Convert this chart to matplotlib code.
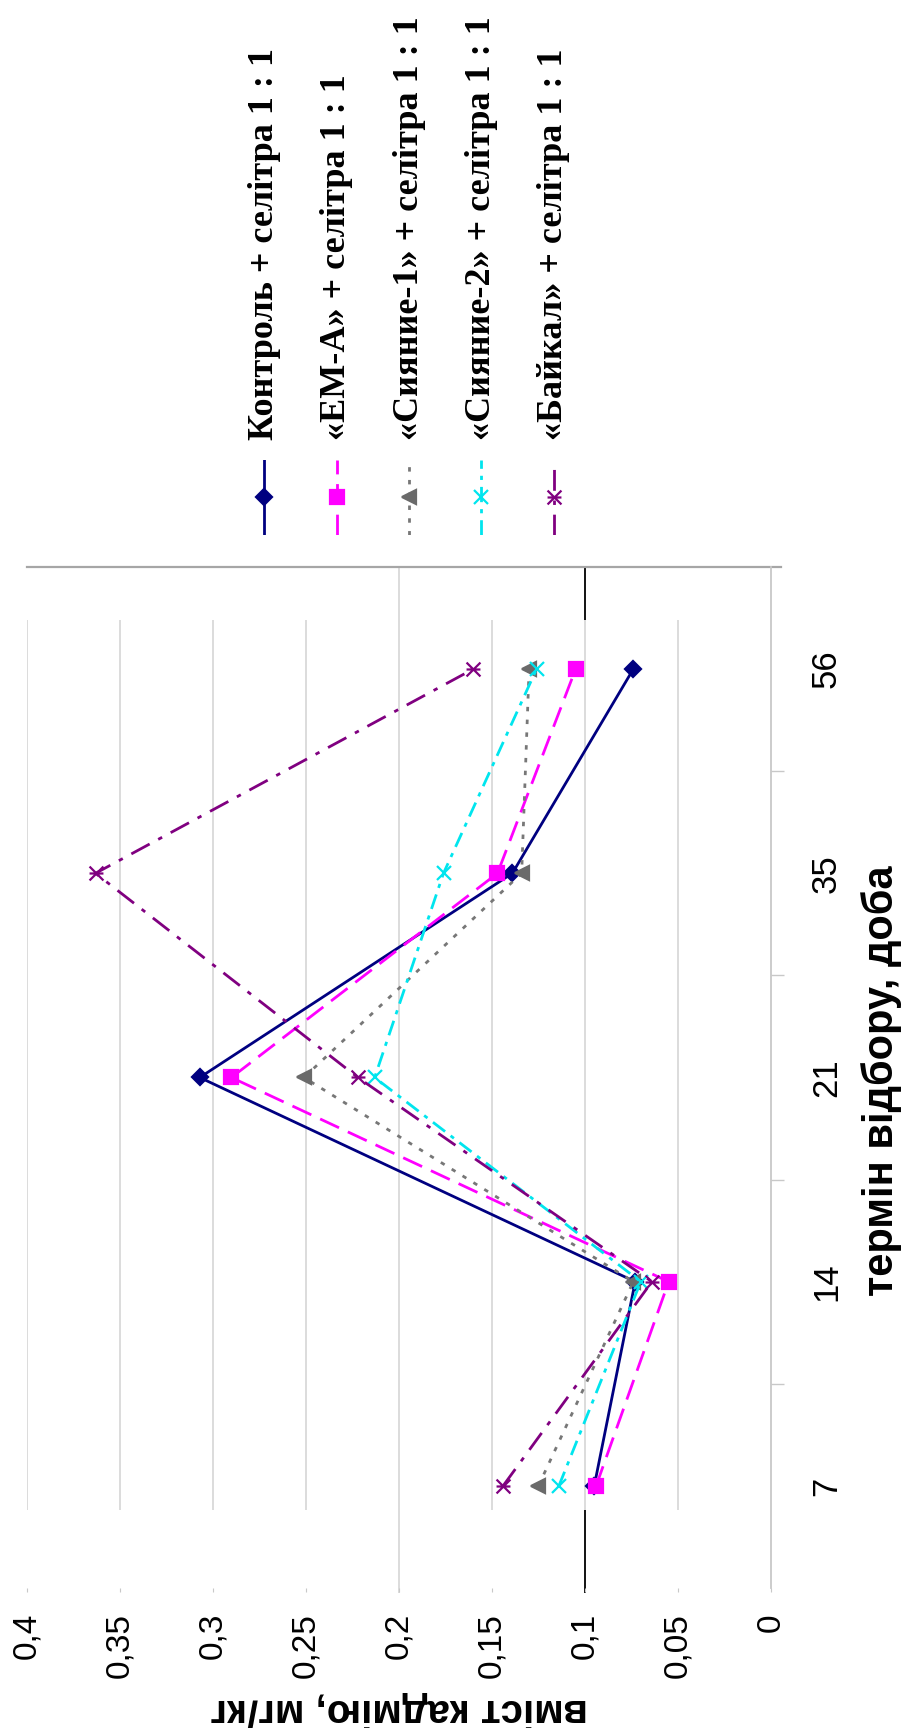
import matplotlib
matplotlib.use("Agg")
import matplotlib.pyplot as plt
from matplotlib.path import Path
import numpy as np


# sampling days (category axis) and the five treatments
days = ["7", "14", "21", "35", "56"]
series_names = ["Контроль + селітра 1 : 1",
                "«ЕМ-А» + селітра 1 : 1",
                "«Сияние-1» + селітра 1 : 1",
                "«Сияние-2» + селітра 1 : 1",
                "«Байкал» + селітра 1 : 1"]

# cadmium content, mg/kg
control = [0.095, 0.073, 0.307, 0.139, 0.074]
em_a = [0.094, 0.055, 0.290, 0.147, 0.105]
siyanie1 = [0.125, 0.074, 0.251, 0.134, 0.130]
siyanie2 = [0.114, 0.070, 0.213, 0.176, 0.126]
baikal = [0.144, 0.064, 0.222, 0.363, 0.160]

value_ticks = [0, 0.05, 0.1, 0.15, 0.2, 0.25, 0.3, 0.35, 0.4]
value_labels = ["0", "0,05", "0,1", "0,15", "0,2", "0,25", "0,3", "0,35", "0,4"]

# Excel-like asterisk (x plus a bar), chart is turned on its side
star = Path([(-1, -1), (1, 1), (-1, 1), (1, -1), (-1, 0), (1, 0)],
            [Path.MOVETO, Path.LINETO, Path.MOVETO, Path.LINETO, Path.MOVETO, Path.LINETO])

styles = [
    dict(color="#000080", ls="-", marker="D", ms=8, mfc="#000080", mec="#000080"),
    dict(color="#ff00ff", ls=(0, (7.5, 3.5)), marker="s", ms=10.5, mfc="#ff00ff", mec="#ff00ff"),
    dict(color="#777777", ls=(0, (1.6, 3)), marker="<", ms=10.5, mfc="#6a6a6a", mec="#6a6a6a"),
    dict(color="#00e5ee", ls=(0, (5.5, 2.5, 1.5, 2.5)), marker="x", ms=10, mfc="none", mec="#00e5ee"),
    dict(color="#800080", ls=(0, (7.5, 3.5, 1.6, 3.5)), marker=star, ms=10, mfc="none", mec="#800080"),
]
all_series = [control, em_a, siyanie1, siyanie2, baikal]

sans = "Liberation Sans"
serif = "Liberation Serif"

fig = plt.figure(figsize=(9.04, 17.28), dpi=100)
ax = fig.add_axes([0.0295, 0.081, 0.8234, 0.5909])

pos = np.arange(len(days))
for vals, st in zip(all_series, styles):
    ax.plot(vals, pos, lw=2, mew=1.6, zorder=3, clip_on=False, **st)

ax.set_xlim(0.4, 0)
ax.set_ylim(-0.5, len(days) - 0.5)

# gridlines (only part of their length is visible in the original)
xt = ax.get_xaxis_transform()
ax.vlines(value_ticks[1:], 0.0764, 0.948, transform=xt, colors="#d9d9d9", lw=1.3, zorder=1)
for lo, hi in [(0.948, 1.0), (-0.005, 0.0764)]:
    ax.vlines([0.2], lo, hi, transform=xt, colors="#d9d9d9", lw=1.3, zorder=1, clip_on=False)
    ax.vlines([0.1], lo, hi, transform=xt, colors="black", lw=1.3, zorder=1, clip_on=False)

for s in ["left", "bottom", "top"]:
    ax.spines[s].set_visible(False)
ax.spines["right"].set_color("#c8c8c8")
ax.spines["right"].set_linewidth(1.3)
ax.plot([0, 1.0134], [1, 1], transform=ax.transAxes, color="#a6a6a6", lw=1.6, clip_on=False)

# value axis (horizontal, reversed)
ax.set_xticks(value_ticks)
ax.set_xticklabels(value_labels, rotation=90, fontsize=24, family=sans)
ax.tick_params(axis="x", direction="out", length=3, color="#c8c8c8", pad=15)

# category axis on the right
ax.yaxis.tick_right()
ax.set_yticks(pos)
ax.set_yticklabels(days, rotation=90, va="center", fontsize=25, family=sans)
ax.tick_params(axis="y", which="major", length=0, pad=28)
ax.set_yticks(pos[:-1] + 0.5, minor=True)
ax.tick_params(axis="y", which="minor", direction="out", length=9, width=1, color="#c8c8c8")

fig.text(0.441, 0.0105, "вміст кадмію, мг/кг", rotation=180, ha="center", va="center",
         fontsize=29, fontweight="bold", family=sans)
fig.text(0.9757, 0.3744, "термін відбору, доба", rotation=90, ha="center", va="center",
         fontsize=30, fontweight="bold", family=sans)

# legend, drawn column by column
leg = fig.add_axes([228 / 904, 1 - 535 / 1728, 362 / 904, 75 / 1728])
leg.set_xlim(-0.5, len(series_names) - 0.5)
leg.set_ylim(0, 1)
leg.axis("off")
for i, (name, st) in enumerate(zip(series_names, styles)):
    leg.plot([i, i, i], [0, 0.5, 1], lw=2, mew=1.6, markevery=[1], **st)
    leg.text(i, 1.27, name, rotation=90, ha="center", va="bottom",
             fontsize=26, fontweight="bold", family=serif)

fig.savefig("out.png", dpi=100)
